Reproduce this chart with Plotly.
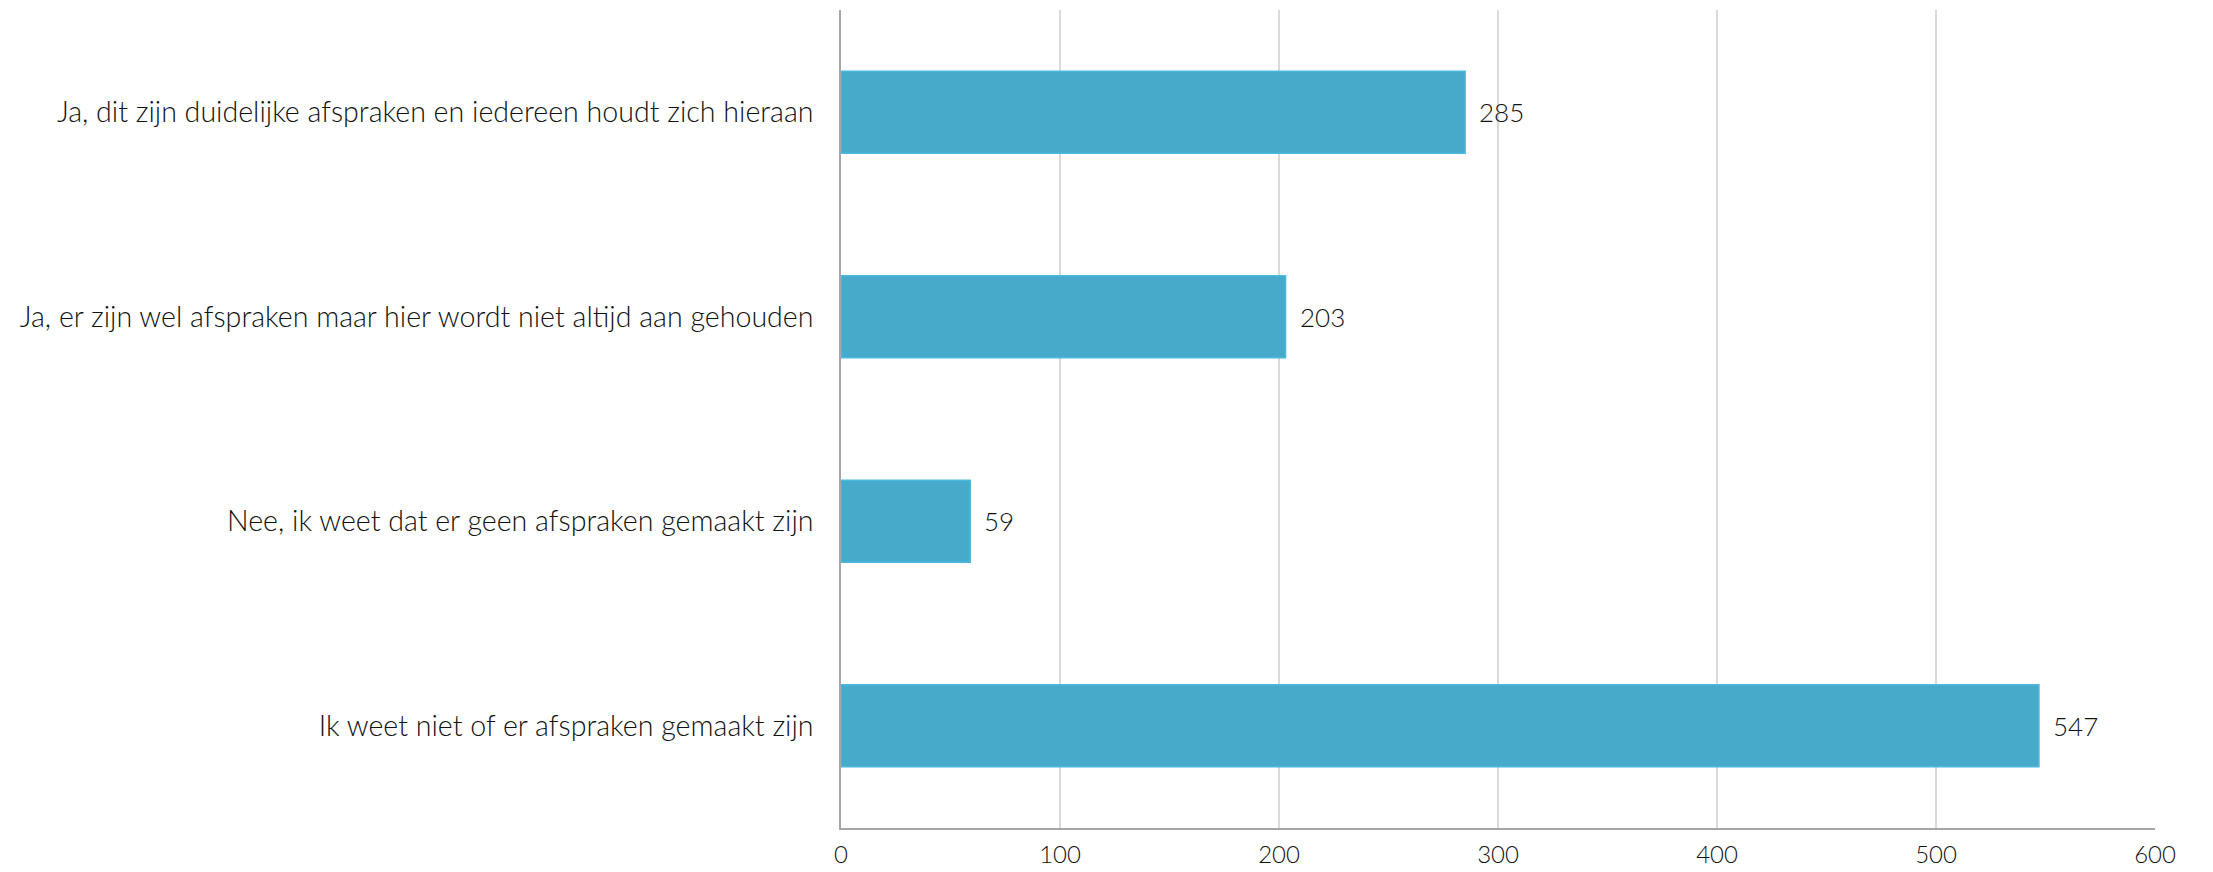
import plotly.graph_objects as go

categories = [
    "Ja, dit zijn duidelijke afspraken en iedereen houdt zich hieraan",
    "Ja, er zijn wel afspraken maar hier wordt niet altijd aan gehouden",
    "Nee, ik weet dat er geen afspraken gemaakt zijn",
    "Ik weet niet of er afspraken gemaakt zijn",
]
values = [285, 203, 59, 547]
x_ticks = [0, 100, 200, 300, 400, 500, 600]

FONT = "Lato"
TXT = "#111111"
fig = go.Figure()
fig.add_trace(go.Bar(
    y=categories, x=values, orientation="h", width=0.4,
    marker=dict(color="#47AACB", line=dict(color="#4DB8DD", width=1.5)),
    hoverinfo="x+y",
))
for c, v in zip(categories, values):
    fig.add_annotation(x=v, y=c, text=str(v), showarrow=False, xanchor="left",
                       xshift=12, font=dict(family=FONT, size=26, color=TXT, weight=300))

fig.update_layout(
    width=2205, height=864,
    margin=dict(l=833, r=58, t=2, b=44),
    plot_bgcolor="white", paper_bgcolor="white",
    showlegend=False,
    font=dict(family=FONT, size=26, color=TXT, weight=300),
    bargap=0.6,
)
fig.update_xaxes(range=[0, 600], tickvals=x_ticks, showgrid=True, gridcolor="#D9D9D9",
                 gridwidth=1.5, zeroline=False, showline=True, linecolor="#A6A6A6",
                 linewidth=1.5, ticks="", ticklabelstandoff=4, automargin=False,
                 tickfont=dict(family=FONT, size=24, color=TXT, weight=300))
fig.update_yaxes(autorange="reversed", categoryorder="array", categoryarray=categories,
                 showgrid=False, zeroline=False, showline=True, linecolor="#A6A6A6",
                 linewidth=1.5, ticks="", ticklabelstandoff=20, automargin=False,
                 tickfont=dict(family=FONT, size=28.6, color=TXT, weight=300))
fig.write_html("out.html")
